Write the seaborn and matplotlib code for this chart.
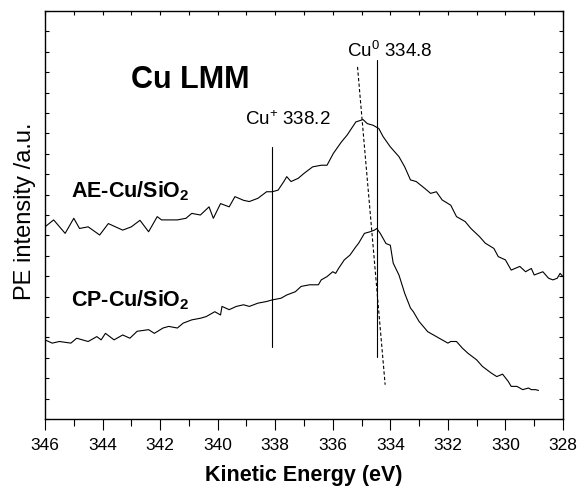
import numpy as np
import pandas as pd
import matplotlib
matplotlib.use("Agg")
import matplotlib.pyplot as plt
import seaborn as sns
from matplotlib.ticker import MultipleLocator

# Kinetic energy (eV) and normalised intensity for each Cu LMM spectrum
ae_energy = [346.0, 345.7, 345.3, 345.0, 344.8, 344.5, 344.1, 343.8, 343.3, 343.0,
             342.7, 342.4, 342.1, 341.95, 341.4, 341.1, 340.9, 340.6, 340.3, 340.15,
             339.9, 339.6, 339.4, 339.1, 338.9, 338.6, 338.3, 338.1, 337.9, 337.7,
             337.6, 337.45, 337.2, 337.0, 336.7, 336.4, 336.2, 335.98, 335.7, 335.5,
             335.2, 334.95, 334.8, 334.6, 334.4, 334.25, 334.0, 333.7, 333.5, 333.3,
             333.1, 332.8, 332.6, 332.4, 332.2, 331.9, 331.7, 331.4, 331.2, 330.9,
             330.7, 330.4, 330.25, 330.0, 329.8, 329.5, 329.3, 329.1, 329.0, 328.7,
             328.5, 328.35, 328.2, 328.1, 328.0]
ae_signal = [0.471, 0.488, 0.455, 0.492, 0.467, 0.471, 0.451, 0.479, 0.463, 0.471,
             0.487, 0.459, 0.496, 0.488, 0.488, 0.492, 0.504, 0.500, 0.520, 0.492,
             0.528, 0.520, 0.545, 0.536, 0.533, 0.541, 0.557, 0.557, 0.561, 0.582,
             0.594, 0.582, 0.590, 0.602, 0.618, 0.622, 0.622, 0.651, 0.679, 0.696,
             0.728, 0.734, 0.724, 0.720, 0.712, 0.692, 0.667, 0.643, 0.618, 0.586,
             0.582, 0.565, 0.553, 0.557, 0.537, 0.524, 0.496, 0.484, 0.467, 0.447,
             0.431, 0.418, 0.398, 0.390, 0.365, 0.374, 0.361, 0.369, 0.353, 0.361,
             0.345, 0.341, 0.345, 0.357, 0.349]

cp_energy = [346.0, 345.75, 345.5, 345.1, 344.9, 344.5, 344.2, 344.05, 343.9, 343.6,
             343.3, 343.05, 342.8, 342.4, 342.2, 341.9, 341.7, 341.4, 341.2, 340.9,
             340.6, 340.4, 340.1, 339.9, 339.85, 339.6, 339.35, 339.1, 338.9, 338.6,
             338.3, 338.1, 337.8, 337.6, 337.3, 337.1, 336.8, 336.5, 336.4, 336.2,
             336.0, 335.9, 335.8, 335.6, 335.4, 335.2, 335.1, 334.9, 334.7, 334.55,
             334.47, 334.35, 334.15, 334.0, 333.9, 333.7, 333.5, 333.3, 333.2, 333.0,
             332.7, 332.4, 332.2, 332.0, 331.9, 331.7, 331.5, 331.3, 331.0, 330.8,
             330.5, 330.3, 330.1, 329.9, 329.8, 329.6, 329.4, 329.2, 329.1, 328.95,
             328.85]
cp_signal = [0.194, 0.186, 0.190, 0.186, 0.198, 0.190, 0.202, 0.194, 0.210, 0.194,
             0.206, 0.198, 0.215, 0.219, 0.210, 0.223, 0.227, 0.223, 0.235, 0.243,
             0.247, 0.251, 0.263, 0.255, 0.276, 0.268, 0.276, 0.280, 0.276, 0.284,
             0.288, 0.292, 0.296, 0.304, 0.312, 0.325, 0.329, 0.329, 0.341, 0.349,
             0.361, 0.357, 0.369, 0.390, 0.402, 0.422, 0.431, 0.455, 0.459, 0.463,
             0.467, 0.455, 0.430, 0.426, 0.382, 0.353, 0.308, 0.272, 0.263, 0.239,
             0.214, 0.202, 0.194, 0.186, 0.190, 0.190, 0.174, 0.161, 0.145, 0.129,
             0.113, 0.104, 0.110, 0.092, 0.080, 0.080, 0.072, 0.076, 0.072, 0.072,
             0.070]

sample_names = ["AE-Cu/SiO$_\\mathbf{2}$", "CP-Cu/SiO$_\\mathbf{2}$"]
cu_plus_energy = 338.1
cu_zero_energy = 334.48
shift_start = (335.14, 0.863)
shift_end = (334.18, 0.084)

sns.set_theme(style="ticks", rc={
    "text.color": "black", "axes.labelcolor": "black",
    "xtick.color": "black", "ytick.color": "black", "axes.edgecolor": "black",
})
plt.rcParams["font.family"] = ["Liberation Sans", "DejaVu Sans"]
plt.rcParams["mathtext.fontset"] = "custom"
plt.rcParams["mathtext.rm"] = "Liberation Sans"
plt.rcParams["mathtext.it"] = "Liberation Sans:italic"
plt.rcParams["mathtext.bf"] = "Liberation Sans:bold"

spectra = pd.concat([
    pd.DataFrame({"energy": ae_energy, "signal": ae_signal, "sample": "AE"}),
    pd.DataFrame({"energy": cp_energy, "signal": cp_signal, "sample": "CP"}),
])

fig = plt.figure(figsize=(5.77, 4.91), dpi=100)
ax = fig.add_axes([0.078, 0.1466, 0.8977, 0.831])

sns.lineplot(data=spectra, x="energy", y="signal", units="sample", estimator=None,
             sort=False, color="black", linewidth=0.8, ax=ax, legend=False)

# Reference positions of Cu+ and Cu0 and the peak-shift guide
ax.plot([cu_plus_energy, cu_plus_energy], [0.176, 0.667], color="black", lw=0.8)
ax.plot([cu_zero_energy, cu_zero_energy], [0.152, 0.879], color="black", lw=0.8)
ax.plot([shift_start[0], shift_end[0]], [shift_start[1], shift_end[1]],
        color="black", lw=0.8, ls=(0, (3, 2)))

ax.text(340.95, 0.83, "Cu LMM", fontsize=22, fontweight="bold", ha="center", va="center")
ax.text(339.05, 0.733, "Cu$^{+}$ 338.2", fontsize=13.5, ha="left", va="center")
ax.text(335.5, 0.902, "Cu$^{0}$ 334.8", fontsize=13.5, ha="left", va="center")
ax.text(345.1, 0.558, sample_names[0], fontsize=15.5, fontweight="bold", ha="left", va="center")
ax.text(345.1, 0.292, sample_names[1], fontsize=15.5, fontweight="bold", ha="left", va="center")

ax.set_xlim(346, 328)
ax.set_ylim(0, 1)
ax.xaxis.set_major_locator(MultipleLocator(2))
ax.xaxis.set_minor_locator(MultipleLocator(1))
ax.yaxis.set_major_locator(MultipleLocator(0.05))
ax.tick_params(axis="x", which="major", direction="out", length=8, width=0.8,
               labelsize=12.5, top=False, pad=6)
ax.tick_params(axis="x", which="minor", direction="out", length=5, width=0.8, top=False)
ax.tick_params(axis="y", which="major", direction="in", length=3, width=0.8,
               left=True, right=True, labelleft=False)

# Inward ticks along the top edge at every 1 eV
top = ax.secondary_xaxis("top")
top.xaxis.set_major_locator(MultipleLocator(1))
top.tick_params(direction="in", length=3, width=0.8, labeltop=False)

for side in ax.spines.values():
    side.set_linewidth(1.0)
top.spines["top"].set_visible(False)

ax.set_xlabel("Kinetic Energy (eV)", fontsize=15.5, fontweight="bold", labelpad=8)
ax.set_ylabel("PE intensity /a.u.", fontsize=17)
ax.yaxis.set_label_coords(-0.017, 0.51)

fig.savefig("out.png", dpi=100)
